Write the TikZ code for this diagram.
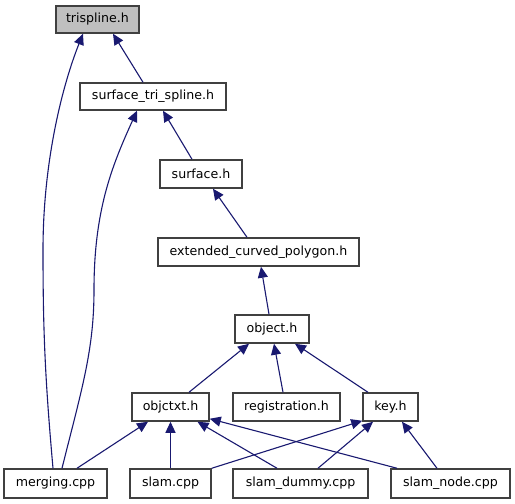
\documentclass[tikz,border=0pt]{standalone}
\usepackage{fontspec}
\setmainfont{DejaVu Sans}
\usetikzlibrary{arrows.meta}
\definecolor{edgecol}{RGB}{25,25,112}
\definecolor{boxcol}{RGB}{64,64,64}
\definecolor{grayfill}{RGB}{191,191,191}
\begin{document}
\begin{tikzpicture}[x=1pt,y=-1pt,
  box/.style={draw=boxcol,line width=1.5pt,fill=white,inner sep=0pt,font=\fontsize{12.6}{14}\selectfont,text=black},
  edge/.style={draw=edgecol,line width=1.1pt,-{Triangle[length=11pt,width=10pt]}}]
\useasboundingbox (0,0) rectangle (515,504);
\node[box,fill=grayfill,minimum width=83pt,minimum height=27pt] (tri) at (97.5,19.5) {trispline.h};
\node[box,minimum width=146pt,minimum height=27pt] (sts) at (153,96.5) {surface\_tri\_spline.h};
\node[box,minimum width=82pt,minimum height=28pt] (surf) at (201,174) {surface.h};
\node[box,minimum width=201pt,minimum height=28pt] (ext) at (258.5,252) {extended\_curved\_polygon.h};
\node[box,minimum width=74pt,minimum height=28pt] (obj) at (272,329) {object.h};
\node[box,minimum width=77pt,minimum height=28pt] (objc) at (170.5,407) {objctxt.h};
\node[box,minimum width=107pt,minimum height=28pt] (reg) at (286.5,407) {registration.h};
\node[box,minimum width=55pt,minimum height=28pt] (key) at (390.5,407) {key.h};
\node[box,minimum width=103pt,minimum height=29pt] (merg) at (55.5,483.5) {merging.cpp};
\node[box,minimum width=81pt,minimum height=29pt] (slam) at (170.5,483.5) {slam.cpp};
\node[box,minimum width=135pt,minimum height=29pt] (dummy) at (300.5,483.5) {slam\_dummy.cpp};
\node[box,minimum width=119pt,minimum height=29pt] (snode) at (450.5,483.5) {slam\_node.cpp};
% edges
\draw[edge] ([xshift=-10pt]sts.north) -- ([xshift=15.5pt]tri.south);
\draw[edge] ([xshift=-2.5pt]merg.north) .. controls +(-8,-90) and +(0,80) .. (43,250) .. controls +(0,-90) and +(-20,50) .. ([xshift=-14.5pt]tri.south);
\draw[edge] ([xshift=6.5pt]merg.north) .. controls +(20,-80) and +(0,60) .. (94,290) .. controls +(0,-80) and +(-25,55) .. ([xshift=-16pt]sts.south);
\draw[edge] ([xshift=-9pt]surf.north) -- ([xshift=10pt]sts.south);
\draw[edge] ([xshift=-11.5pt]ext.north) -- ([xshift=12pt]surf.south);
\draw[edge] ([xshift=-3pt]obj.north) -- ([xshift=2.5pt]ext.south);
\draw[edge] ([xshift=18.5pt]objc.north) -- ([xshift=-23pt]obj.south);
\draw[edge] ([xshift=-3.5pt]reg.north) -- ([xshift=2pt]obj.south);
\draw[edge] ([xshift=-22.5pt]key.north) -- ([xshift=23pt]obj.south);
\draw[edge] ([xshift=21.5pt]merg.north) -- ([xshift=-22.5pt]objc.south);
\draw[edge] (slam.north) -- (objc.south);
\draw[edge] ([xshift=-23.5pt]dummy.north) -- ([xshift=27pt]objc.south);
\draw[edge] ([xshift=-53.5pt]snode.north) -- ([yshift=3pt]objc.south east);
\draw[edge] (slam.north east) -- ([yshift=1pt]key.south west);
\draw[edge] ([xshift=17.5pt]dummy.north) -- ([xshift=-17.5pt]key.south);
\draw[edge] ([xshift=-13.5pt]snode.north) -- ([xshift=11.5pt]key.south);
\end{tikzpicture}
\end{document}
